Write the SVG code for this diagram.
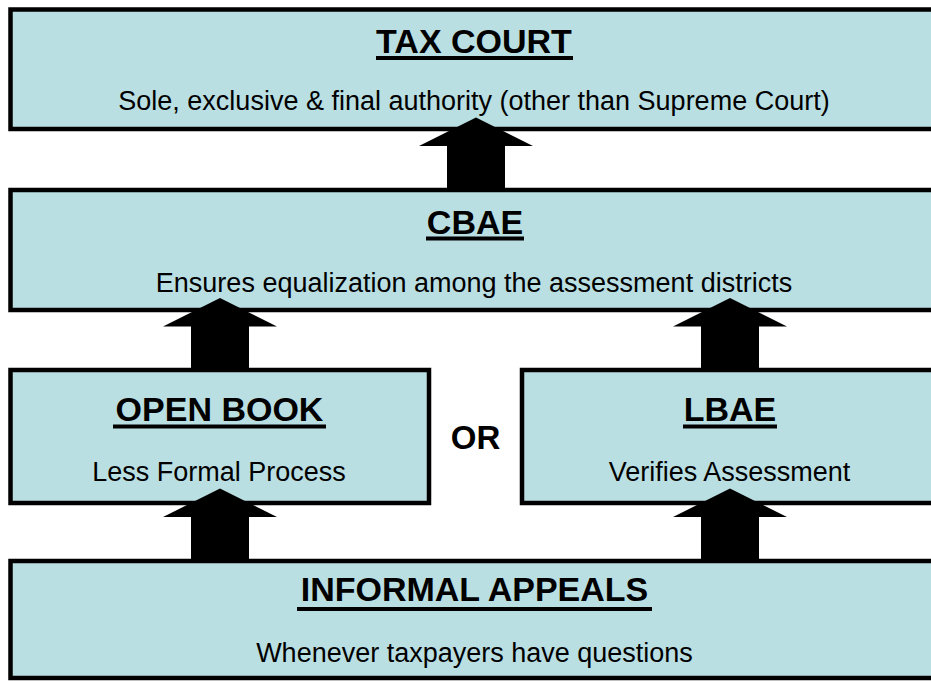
<svg xmlns="http://www.w3.org/2000/svg" width="931" height="681" viewBox="0 0 931 681">
<style>
.box{fill:#badfe3;stroke:#000;stroke-width:4.5}
.t{font-family:"Liberation Sans",Arial,sans-serif;font-weight:bold;font-size:34px;fill:#000;text-anchor:middle}
.s{font-family:"Liberation Sans",Arial,sans-serif;font-size:27px;fill:#000;text-anchor:middle}
.u{stroke:#000;stroke-width:4}
.arr{fill:#000}
</style>
<defs>
<path id="arrow" d="M0,0 L57,28.5 L29,28.5 L29,72.5 L-29,72.5 L-29,28.5 L-57,28.5 Z"/>
</defs>
<rect width="931" height="681" fill="#fff"/>
<g id="tax-court">
<rect class="box" x="10.5" y="9.5" width="930" height="119.5"/>
<text class="t" x="474" y="53">TAX COURT</text>
<line class="u" x1="376" y1="58" x2="573" y2="58"/>
<text class="s" x="474" y="110">Sole, exclusive &amp; final authority (other than Supreme Court)</text>
</g>
<g id="cbae">
<rect class="box" x="10.5" y="190" width="930" height="120"/>
<text class="t" x="475" y="233.5">CBAE</text>
<line class="u" x1="426" y1="238.5" x2="524" y2="238.5"/>
<text class="s" x="474" y="291.5">Ensures equalization among the assessment districts</text>
</g>
<g id="open-book">
<rect class="box" x="10.5" y="370" width="418.5" height="133"/>
<text class="t" x="219.5" y="420.5">OPEN BOOK</text>
<line class="u" x1="113" y1="426.5" x2="326" y2="426.5"/>
<text class="s" x="219" y="480.5">Less Formal Process</text>
</g>
<g id="lbae">
<rect class="box" x="522" y="370" width="420" height="133"/>
<text class="t" x="730" y="420.5">LBAE</text>
<line class="u" x1="683" y1="426.5" x2="777" y2="426.5"/>
<text class="s" x="729.5" y="480.5">Verifies Assessment</text>
</g>
<g id="or-label">
<text class="t" x="475.5" y="449" style="font-size:33px">OR</text>
</g>
<g id="informal-appeals">
<rect class="box" x="10.5" y="561" width="930" height="117"/>
<text class="t" x="474.5" y="601">INFORMAL APPEALS</text>
<line class="u" x1="297" y1="609" x2="652" y2="609"/>
<text class="s" x="474.5" y="662">Whenever taxpayers have questions</text>
</g>
<g id="connectors">
<use href="#arrow" class="arr" x="476" y="117.5"/>
<use href="#arrow" class="arr" x="220" y="298"/>
<use href="#arrow" class="arr" x="730" y="298"/>
<use href="#arrow" class="arr" x="220" y="488.5"/>
<use href="#arrow" class="arr" x="730" y="488.5"/>
</g>
</svg>
